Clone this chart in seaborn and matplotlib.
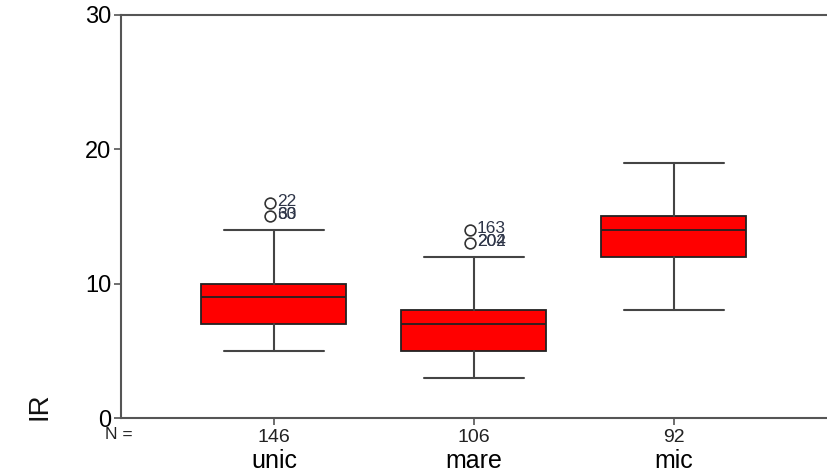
import matplotlib
matplotlib.use("Agg")
import matplotlib.pyplot as plt
import seaborn as sns

# Box summaries (SPSS-style boxplot of IR by group)
groups = ["unic", "mare", "mic"]
counts = [146, 106, 92]
q1 = [7, 5, 12]
medians = [9, 7, 14]
q3 = [10, 8, 15]
whisker_low = [5, 3, 8]
whisker_high = [14, 12, 19]

# outliers: (group index, value, case labels drawn on top of each other)
outlier_group = [0, 0, 1, 1]
outlier_value = [16, 15, 14, 13]
outlier_labels = [["22"], ["60", "33"], ["163"], ["202", "204"]]

sns.set_style("white")
plt.rcParams['font.family'] = ['Liberation Sans', 'DejaVu Sans']

fig = plt.figure(figsize=(8.28, 4.72), dpi=100)
ax = fig.add_axes([0.1461, 0.1144, 0.8539, 0.8545])

stats = []
for i, g in enumerate(groups):
    stats.append({
        'label': g, 'q1': q1[i], 'med': medians[i], 'q3': q3[i],
        'whislo': whisker_low[i], 'whishi': whisker_high[i], 'fliers': []
    })

ax.bxp(stats, positions=range(len(groups)), widths=0.725, capwidths=0.5,
       patch_artist=True, showfliers=False,
       boxprops=dict(facecolor='#ff0000', edgecolor='#222222', linewidth=1.3),
       medianprops=dict(color='#222222', linewidth=1.3),
       whiskerprops=dict(color='#444444', linewidth=1.5),
       capprops=dict(color='#444444', linewidth=1.5))

# outlier circles and their case numbers (SPSS draws tied cases on top of each other)
ax.scatter([x - 0.02 for x in outlier_group], outlier_value, s=60, marker='o',
           facecolors='white', edgecolors='#333333', linewidths=1.2, zorder=4)
for x, v, labs in zip(outlier_group, outlier_value, outlier_labels):
    for lab in labs:
        ax.text(x + 0.015, v + 0.1, lab, fontsize=12.5, color='#2e3548',
                ha='left', va='center', zorder=5)

ax.set_ylim(0, 30)
ax.set_xlim(-0.765, 2.77)
ax.set_yticks([0, 10, 20, 30])
ax.set_yticklabels(['0', '10', '20', '30'], fontsize=17, color='#000000')
ax.set_xticks(range(len(groups)))
ax.set_xticklabels([str(c) for c in counts], fontsize=14, color='#222222')

for side in ['left', 'bottom', 'top']:
    ax.spines[side].set_color('#555555')
    ax.spines[side].set_linewidth(1.5)
ax.spines['right'].set_visible(False)
ax.tick_params(axis='both', direction='out', length=5, width=1.2, color='#555555',
               bottom=True, left=True)
ax.tick_params(axis='y', pad=2)
ax.tick_params(axis='x', pad=3)
ax.set_xlabel('')
ax.set_ylabel('')

trans = ax.get_xaxis_transform()
for i, g in enumerate(groups):
    ax.text(i, -0.107, g, transform=trans, ha='center', va='center',
            fontsize=18, color='#000000')
ax.text(-0.775, -0.042, 'N =', transform=trans, ha='center', va='center',
        fontsize=12.5, color='#222222')

fig.text(40 / 828, 1 - 406 / 472, 'IR', rotation=90, ha='center', va='center',
         fontsize=20, color='#111111')

fig.savefig('out.png', dpi=100)
